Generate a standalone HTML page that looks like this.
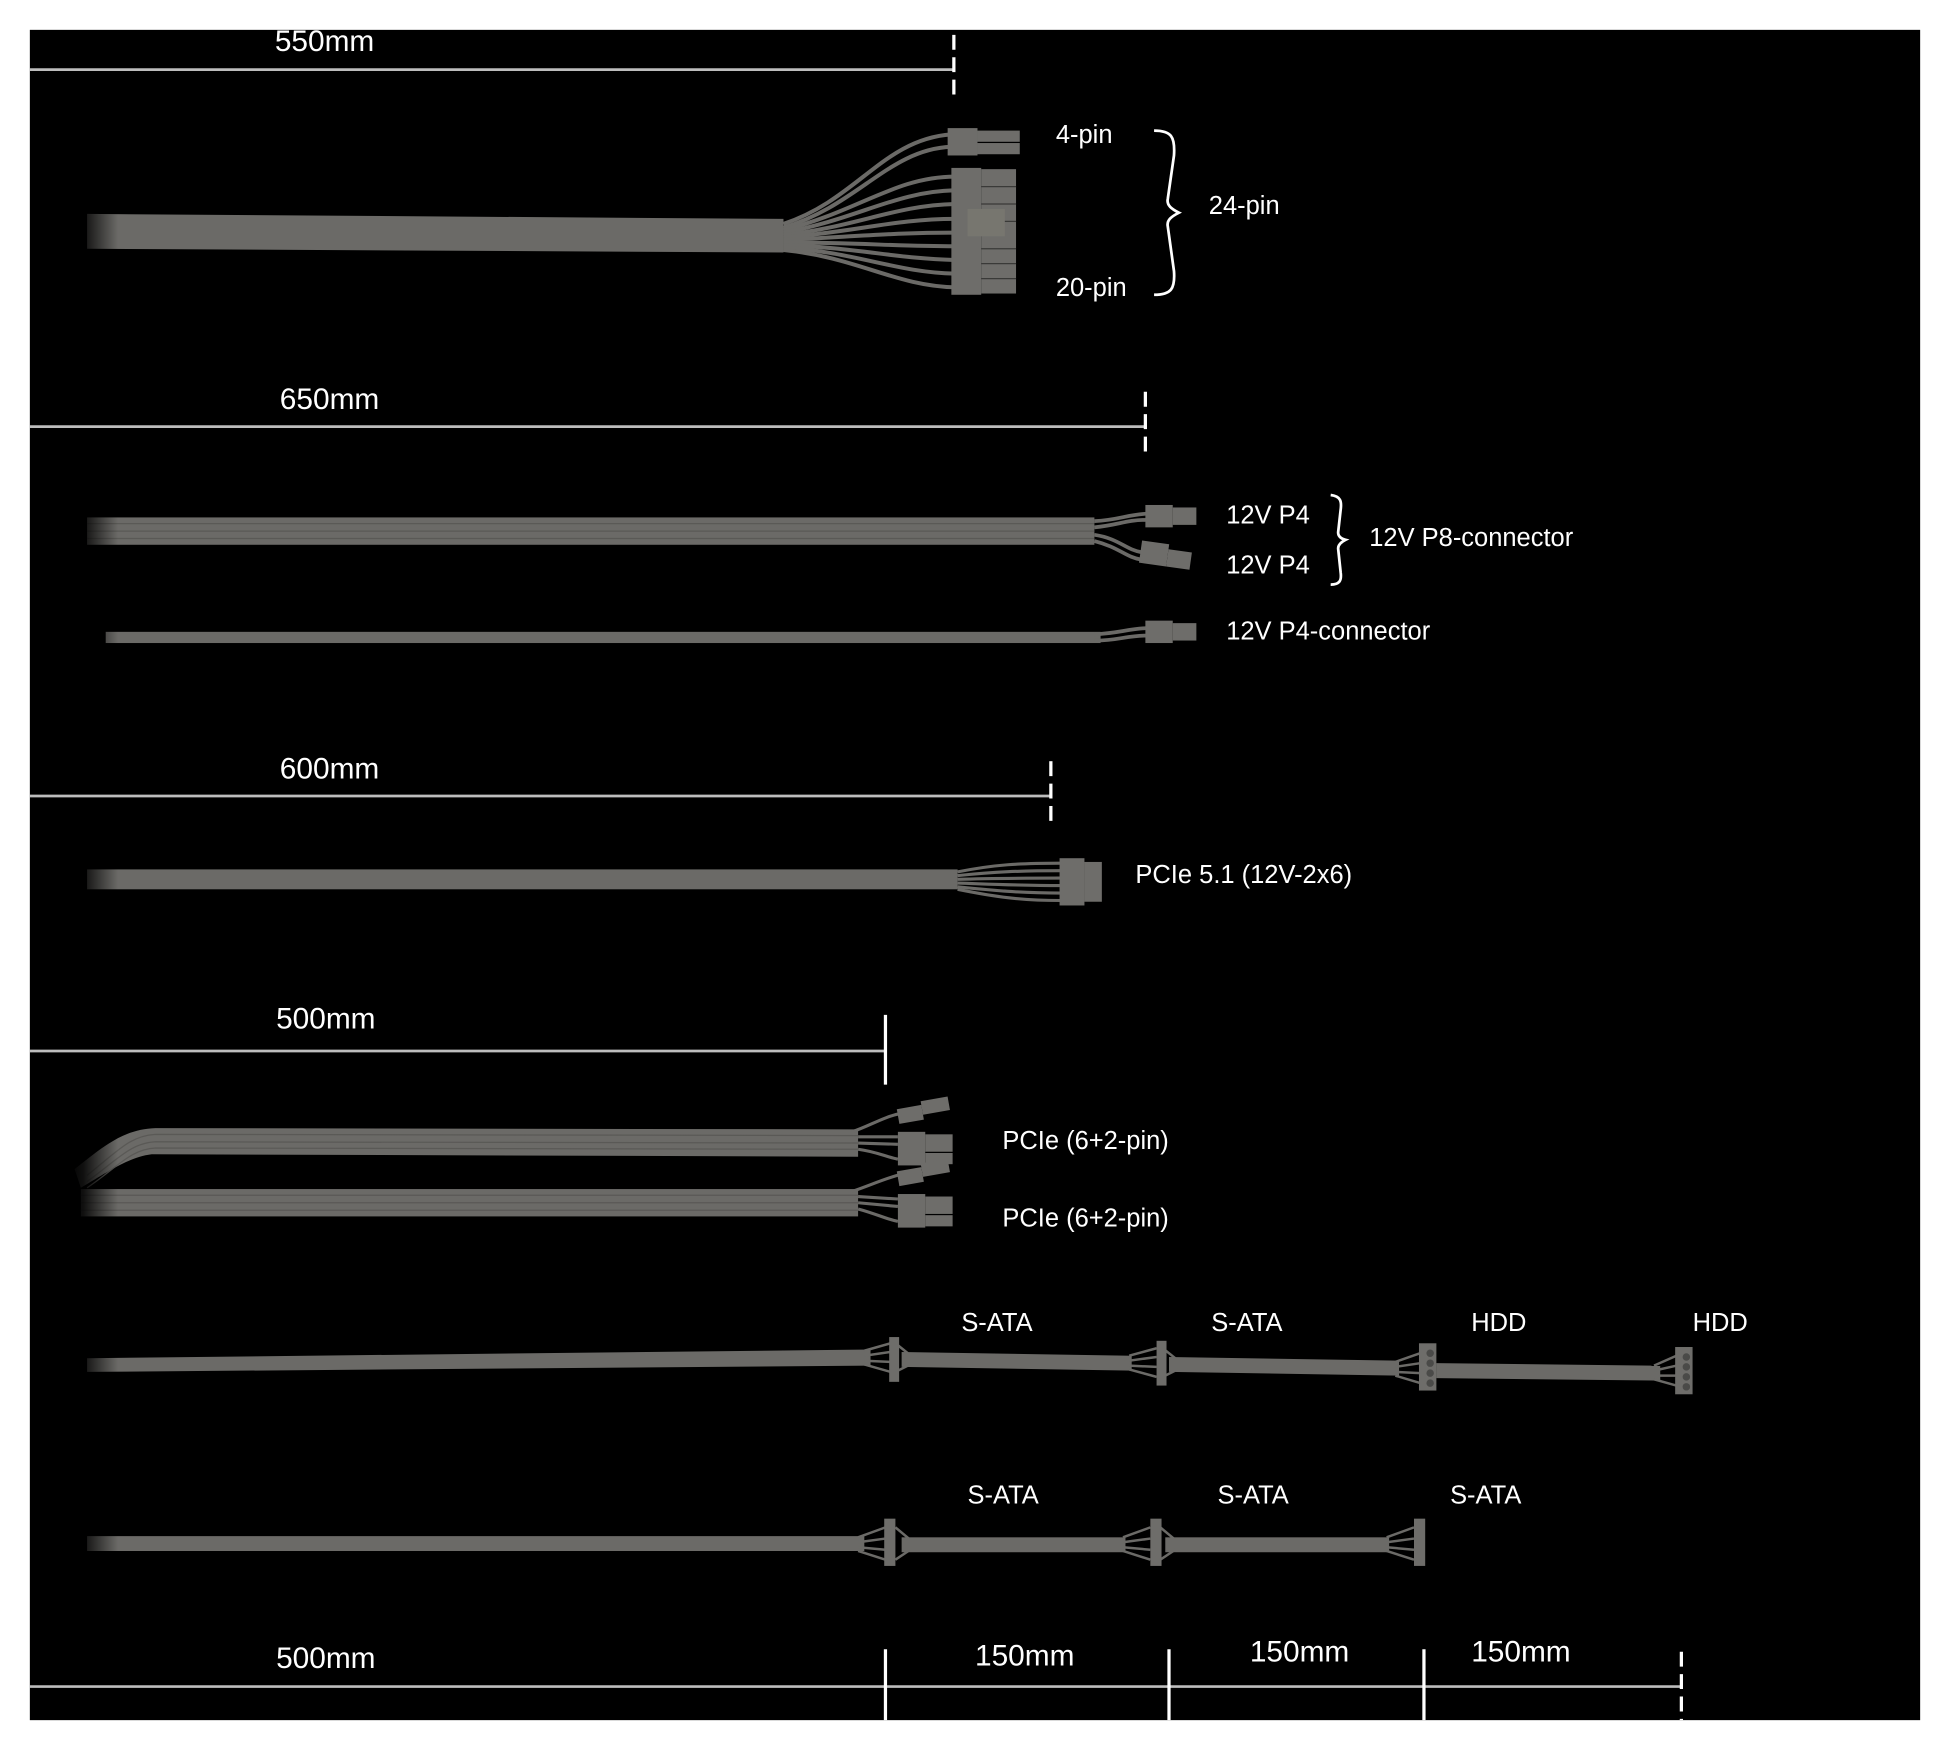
<!DOCTYPE html>
<html><head><meta charset="utf-8"><style>
html,body{margin:0;padding:0;background:#fff;width:1950px;height:1750px;overflow:hidden}
svg{display:block}
text{font-family:"Liberation Sans",Arial,sans-serif;fill:#fff}
</style></head><body>
<svg width="1950" height="1750" viewBox="0 0 1568 1407" preserveAspectRatio="none" xmlns="http://www.w3.org/2000/svg">
<defs>
<linearGradient id="fade" x1="0" x2="1" y1="0" y2="0">
<stop offset="0" stop-color="#000" stop-opacity="1"/>
<stop offset="0.3" stop-color="#000" stop-opacity="0.85"/>
<stop offset="1" stop-color="#000" stop-opacity="0"/>
</linearGradient>
</defs>
<rect x="24" y="24" width="1520" height="1359" fill="#000"/>
<g fill="#6b6a67" stroke="none">
<path d="M70 172 L630 176 L630 203 L70 200 Z"/>
</g>
<g fill="none" stroke="#6b6a67" stroke-width="3.2">
<path d="M630 180 C690 160 710 112 765 108"/>
<path d="M630 183 C690 165 715 120 765 118"/>
<path d="M630 185 C690 170 720 142 768 142"/>
<path d="M630 187 C690 176 720 154 768 153"/>
<path d="M630 189 C690 182 720 165 768 164"/>
<path d="M630 191 C690 186 720 176 768 176"/>
<path d="M630 193 C690 190 720 187 768 187"/>
<path d="M630 195 C690 195 720 198 768 198"/>
<path d="M630 197 C690 199 720 208 768 209"/>
<path d="M630 199 C690 203 720 219 768 220"/>
<path d="M630 201 C690 207 720 230 768 231"/>
</g>
<g fill="#6e6d6a">
<rect x="762" y="103" width="24" height="22"/>
<rect x="786" y="105" width="34" height="9"/><rect x="786" y="115" width="34" height="9"/>
<rect x="765" y="135" width="24" height="102"/>
<rect x="789" y="136" width="28" height="100"/>
<rect x="778" y="168" width="30" height="22" fill="#77766f"/>
</g>
<g stroke="#3a3a38" stroke-width="1">
<line x1="789" y1="150" x2="817" y2="150"/><line x1="789" y1="164" x2="817" y2="164"/>
<line x1="808" y1="178" x2="817" y2="178"/><line x1="789" y1="200" x2="817" y2="200"/>
<line x1="789" y1="212" x2="817" y2="212"/><line x1="789" y1="224" x2="817" y2="224"/>
</g>
<rect x="70" y="416" width="810" height="22" fill="#6b6a67"/>
<g stroke="#5a5956" stroke-width="1"><line x1="70" y1="421" x2="880" y2="421"/><line x1="70" y1="427" x2="880" y2="427"/><line x1="70" y1="433" x2="880" y2="433"/></g>
<g fill="none" stroke="#6b6a67" stroke-width="3">
<path d="M880 419 C900 418 905 414 922 413"/><path d="M880 424 C900 422 905 418 922 418"/>
<path d="M880 430 C900 433 905 442 918 444"/><path d="M880 435 C900 440 905 448 918 450"/>
</g>
<g fill="#6e6d6a"><rect x="921" y="406" width="22" height="18"/><rect x="943" y="408" width="19" height="14"/>
<rect x="917" y="436" width="22" height="18" transform="rotate(8 928 445)"/><rect x="939" y="440" width="19" height="14" transform="rotate(8 928 445)"/></g>
<rect x="85" y="508" width="800" height="9" fill="#6b6a67"/>
<g fill="none" stroke="#6b6a67" stroke-width="3"><path d="M880 510 C900 509 905 506 922 505"/><path d="M880 515 C900 515 905 511 922 511"/></g>
<g fill="#6e6d6a"><rect x="921" y="499" width="22" height="18"/><rect x="943" y="501" width="19" height="14"/></g>
<rect x="70" y="699" width="700" height="16" fill="#6b6a67"/>
<g fill="none" stroke="#6b6a67" stroke-width="2.5">
<path d="M770 701 C800 695 820 694 853 694"/><path d="M770 704 C800 701 820 700 853 700"/>
<path d="M770 707 C800 706 820 706 853 706"/><path d="M770 710 C800 711 820 712 853 712"/>
<path d="M770 713 C800 716 820 718 853 718"/><path d="M770 715 C800 721 820 724 853 724"/>
</g>
<g fill="#6e6d6a"><rect x="852" y="690" width="20" height="38"/><rect x="872" y="693" width="14" height="32"/></g>
<path d="M60 940 C85 920 100 908 125 907 L690 908 L690 930 L122 928 C105 930 90 940 65 955 Z" fill="#6b6a67"/>
<g stroke="#5a5956" stroke-width="1" fill="none"><path d="M70 945 C95 925 105 913 125 912 L690 913"/><path d="M70 950 C95 932 105 919 125 918 L690 919"/><path d="M70 955 C95 938 105 924 125 923 L690 924"/></g>
<rect x="65" y="956" width="625" height="22" fill="#6b6a67"/>
<g stroke="#5a5956" stroke-width="1"><line x1="65" y1="961" x2="690" y2="961"/><line x1="65" y1="967" x2="690" y2="967"/><line x1="65" y1="973" x2="690" y2="973"/></g>
<g fill="none" stroke="#6b6a67" stroke-width="2.5">
<path d="M685 910 C700 905 710 898 725 895"/><path d="M690 914 L722 914"/><path d="M690 919 L722 920"/><path d="M690 924 C705 926 712 930 722 932"/>
<path d="M685 958 C700 953 710 948 725 944"/><path d="M690 962 L722 964"/><path d="M690 967 L722 970"/><path d="M690 972 C705 976 712 980 722 982"/>
</g>
<g fill="#6e6d6a">
<rect x="722" y="890" width="20" height="12" transform="rotate(-10 732 896)"/><rect x="742" y="887" width="22" height="11" transform="rotate(-10 732 896)"/>
<rect x="722" y="910" width="22" height="27"/><rect x="744" y="912" width="22" height="14"/><rect x="744" y="927" width="22" height="9"/>
<rect x="722" y="940" width="20" height="12" transform="rotate(-10 732 946)"/><rect x="742" y="937" width="22" height="11" transform="rotate(-10 732 946)"/>
<rect x="722" y="960" width="22" height="27"/><rect x="744" y="962" width="22" height="14"/><rect x="744" y="977" width="22" height="9"/>
</g>
<path d="M70 1092 L700 1085 L700 1098 L70 1103 Z" fill="#6b6a67"/>
<path d="M725 1087 L910 1090 L910 1102 L725 1099 Z" fill="#6b6a67"/>
<path d="M940 1091 L1125 1094 L1125 1106 L940 1103 Z" fill="#6b6a67"/>
<path d="M1155 1096 L1335 1098 L1335 1110 L1155 1108 Z" fill="#6b6a67"/>
<g fill="none" stroke="#6b6a67" stroke-width="2">
<path d="M695 1086 L716 1080"/><path d="M695 1090 L716 1087"/><path d="M695 1094 L716 1095"/><path d="M695 1097 L716 1103"/>
<path d="M720 1080 L730 1088"/><path d="M720 1103 L730 1098"/>
<path d="M908 1090 L930 1084"/><path d="M908 1094 L930 1091"/><path d="M908 1098 L930 1099"/><path d="M908 1101 L930 1107"/>
<path d="M935 1084 L945 1092"/><path d="M935 1107 L945 1102"/>
<path d="M1122 1095 L1142 1088"/><path d="M1122 1099 L1142 1096"/><path d="M1122 1103 L1142 1104"/><path d="M1122 1106 L1142 1112"/>
<path d="M1330 1098 L1348 1090"/><path d="M1330 1102 L1348 1098"/><path d="M1330 1106 L1348 1106"/><path d="M1330 1109 L1348 1114"/>
</g>
<g fill="#6e6d6a"><rect x="715" y="1075" width="8" height="36"/><rect x="930" y="1078" width="8" height="36"/>
<rect x="1141" y="1080" width="14" height="38"/><rect x="1347" y="1083" width="14" height="38"/></g>
<g fill="#4a4a48"><circle cx="1150" cy="1088" r="3"/><circle cx="1150" cy="1096" r="3"/><circle cx="1150" cy="1104" r="3"/><circle cx="1150" cy="1112" r="3"/>
<circle cx="1356" cy="1091" r="3"/><circle cx="1356" cy="1099" r="3"/><circle cx="1356" cy="1107" r="3"/><circle cx="1356" cy="1115" r="3"/></g>
<path d="M70 1235 L695 1235 L695 1247 L70 1247 Z" fill="#6b6a67"/>
<rect x="725" y="1236" width="180" height="12" fill="#6b6a67"/>
<rect x="937" y="1236" width="180" height="12" fill="#6b6a67"/>
<g fill="none" stroke="#6b6a67" stroke-width="2">
<path d="M690 1236 L712 1228"/><path d="M690 1240 L712 1237"/><path d="M690 1244 L712 1246"/><path d="M690 1247 L712 1254"/>
<path d="M720 1228 L732 1238"/><path d="M720 1254 L732 1246"/>
<path d="M903 1236 L925 1228"/><path d="M903 1240 L925 1237"/><path d="M903 1244 L925 1246"/><path d="M903 1247 L925 1254"/>
<path d="M933 1228 L945 1238"/><path d="M933 1254 L945 1246"/>
<path d="M1115 1236 L1137 1228"/><path d="M1115 1240 L1137 1237"/><path d="M1115 1244 L1137 1246"/><path d="M1115 1247 L1137 1254"/>
</g>
<g fill="#6e6d6a"><rect x="711" y="1221" width="9" height="38"/><rect x="925" y="1221" width="9" height="38"/><rect x="1137" y="1221" width="9" height="38"/></g>
<rect x="55" y="160" width="40" height="1100" fill="url(#fade)"/>
<g stroke="#bdbdbd" stroke-width="2.2">
<line x1="24" y1="56" x2="767" y2="56"/>
<line x1="24" y1="343" x2="921" y2="343"/>
<line x1="24" y1="640" x2="845" y2="640"/>
<line x1="24" y1="845" x2="712" y2="845"/>
<line x1="24" y1="1356" x2="1352" y2="1356"/>
</g>
<g stroke="#fff" stroke-width="2.6">
<line x1="767" y1="28" x2="767" y2="80" stroke-dasharray="12,6"/>
<line x1="921" y1="315" x2="921" y2="368" stroke-dasharray="12,6"/>
<line x1="845" y1="612" x2="845" y2="666" stroke-dasharray="12,6"/>
<line x1="712" y1="816" x2="712" y2="872"/>
<line x1="712" y1="1326" x2="712" y2="1383"/>
<line x1="940" y1="1326" x2="940" y2="1383"/>
<line x1="1145" y1="1326" x2="1145" y2="1383"/>
<line x1="1352" y1="1328" x2="1352" y2="1383" stroke-dasharray="12,6"/>
</g>
<g fill="none" stroke="#fff" stroke-width="2.2">
<path d="M928 105 C942 105 945 110 944 125 L939 160 C938 165 942 168 948 171 C942 174 938 177 939 182 L944 218 C945 232 942 237 928 237"/>
<path d="M1070 398 C1078 399 1079 403 1078 410 L1076 428 C1076 431 1078 433 1082 434 C1078 436 1076 438 1076 441 L1078 460 C1079 467 1077 470 1070 470"/>
</g>
<g font-size="24">
<text x="221" y="41">550mm</text>
<text x="225" y="329">650mm</text>
<text x="225" y="626">600mm</text>
<text x="222" y="827">500mm</text>
<text x="222" y="1341">500mm</text>
<text x="784" y="1339">150mm</text>
<text x="1005" y="1336">150mm</text>
<text x="1183" y="1336">150mm</text>
</g>
<g font-size="20.5">
<text x="849" y="115">4-pin</text>
<text x="849" y="238">20-pin</text>
<text x="972" y="172">24-pin</text>
<text x="986" y="421">12V P4</text>
<text x="986" y="461">12V P4</text>
<text x="1101" y="439">12V P8-connector</text>
<text x="986" y="514">12V P4-connector</text>
<text x="913" y="710">PCIe 5.1 (12V-2x6)</text>
<text x="806" y="924">PCIe (6+2-pin)</text>
<text x="806" y="986">PCIe (6+2-pin)</text>
<text x="773" y="1070">S-ATA</text>
<text x="974" y="1070">S-ATA</text>
<text x="1183" y="1070">HDD</text>
<text x="1361" y="1070">HDD</text>
<text x="778" y="1209">S-ATA</text>
<text x="979" y="1209">S-ATA</text>
<text x="1166" y="1209">S-ATA</text>
</g>
</svg>
</body></html>
